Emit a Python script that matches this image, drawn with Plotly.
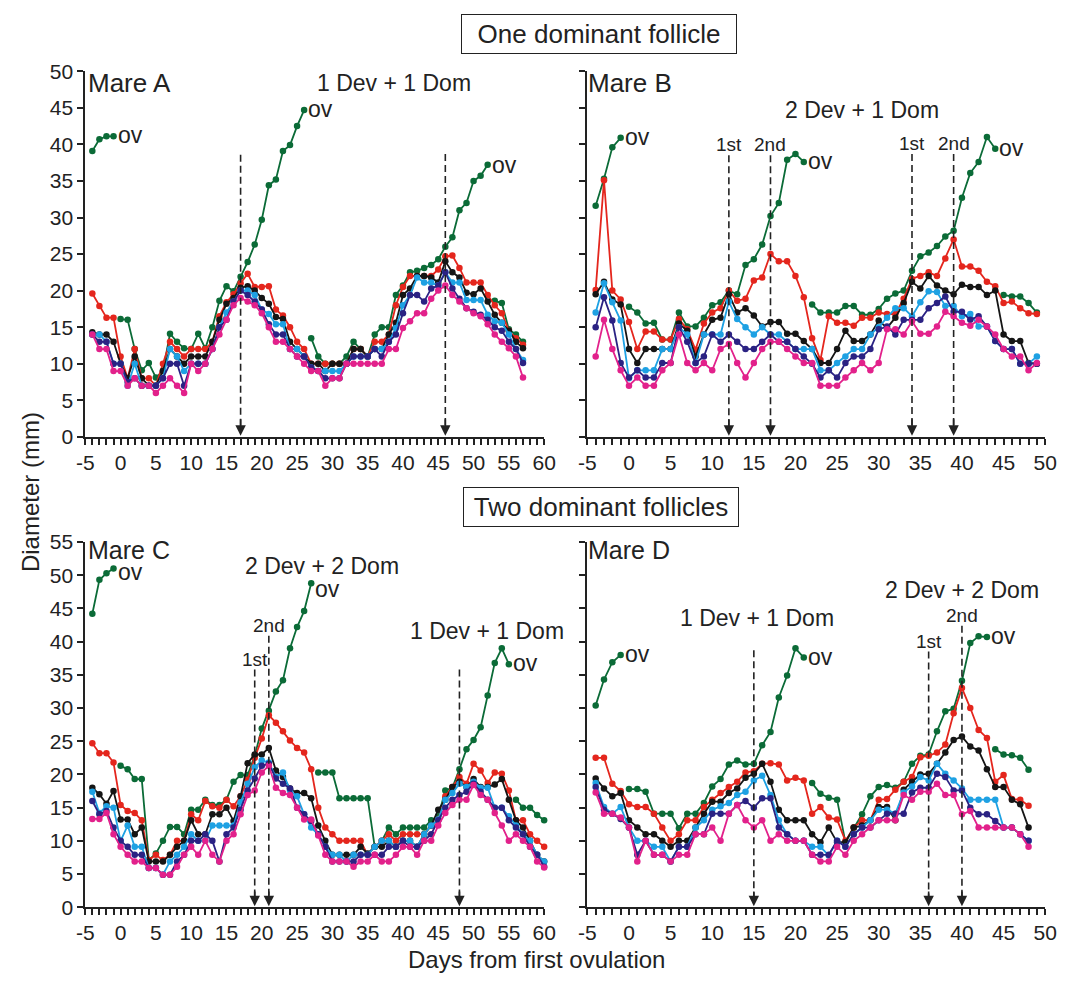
import plotly.graph_objects as go

W, H = 1077, 984
def PX(x): return x / W
def PY(y): return 1 - y / H

FONT = "Arial, Liberation Sans, sans-serif"
COL = dict(green="#0b6b37", red="#e4261d", black="#151515",
           lblue="#1ea1e3", navy="#2b2283", pink="#e2218b")

# ---------------- Mare A (days -4 .. 57) ----------------
A_START = -4
A_RED = [19.6, 17.9, 16.3, 16.3,
         11, 8, 12, 8, 8, 7, 10, 13, 12, 11,
         12, 12, 12, 13, 16.5, 18.4, 19.5, 21, 22.3, 20.5,
         20.5, 20.6, 17.4, 16.6, 15, 13, 12, 10, 10, 10,
         10, 10, 10, 12, 12, 11, 13, 13, 14, 18,
         20.5, 22, 22, 22, 22, 22.9, 24.7, 24.8, 23.1, 21.1,
         21.1, 21.1, 19.4, 18.0, 16.9, 14.5, 13.5, 12.6]
A_BLACK = [14.3, 14, 14, 13,
           10, 8, 11, 8, 7, 7, 9, 12, 11, 10,
           11, 11, 11, 13, 16, 18.2, 19, 20.4, 20.6, 20,
           19, 18.2, 16.4, 16.1, 13, 12, 11, 10, 10, 9,
           10, 10, 10, 12, 12, 11, 12, 12, 14, 15.6,
           19.4, 20.3, 22, 22, 21.8, 21.1, 24, 22.5, 21.8, 19.7,
           19.5, 20.3, 18.5, 16.7, 15.6, 14.5, 13.0, 12.1]
A_LBLUE = [14, 14, 13, 10,
           10, 7, 10, 7, 7, 7, 8, 12, 11, 9,
           10, 10, 10, 12, 15, 17, 18.5, 20, 20, 19.4,
           17.4, 16.8, 15.4, 15.4, 12, 12, 11, 9.5, 9, 9,
           9, 9, 10, 11, 11, 11, 12, 12, 13, 14.9,
           18, 19.4, 21.8, 21.1, 21.1, 20.7, 22.5, 21.1, 21.1, 18.7,
           18.7, 18.7, 16.7, 15.8, 15.6, 14.0, 12, 10.5]
A_NAVY = [14, 13, 13, 10,
          10, 7.5, 8, 7, 7, 7, 8, 10, 10, 7,
          10, 10, 10, 12, 15, 16, 18.5, 20, 19.4, 18.5,
          17.4, 15.4, 14, 14, 12, 11, 11, 9.5, 9, 8,
          8, 8, 10, 11, 11, 11, 12, 11, 13, 14,
          16.9, 19.4, 19.4, 18.5, 20.3, 20.7, 22.5, 20.3, 18.9, 17.6,
          17.1, 16.7, 16.0, 15.0, 14.5, 13.0, 12, 10.1]
A_PINK = [14, 12, 12, 9,
          9, 7, 8, 7, 7, 6, 7, 8, 7, 6,
          10, 9, 10, 12, 14, 16, 18, 19, 18.5, 18,
          16.9, 15, 13, 13, 12, 11, 10, 9, 9, 7,
          8, 8, 10, 10, 10, 10, 10, 10, 12, 12,
          14.9, 15.8, 16.9, 16.9, 18.9, 20, 20.7, 19.4, 18.5, 17.6,
          16.9, 16.5, 15.4, 14.0, 13.0, 12.1, 11, 8.1]
A_GREEN = [(-4, [39.1, 40.7, 41.1, 41.1]),
           (0, [16.1, 16.0, 12, 9.1, 10.1, 8.1, 9, 14.1, 13.0, 12.1, 12, 14.1, 12.1,
                15.0, 18.6, 20.6, 19.9, 21.9, 23.9, 26.3, 29.7, 34.4, 35.2, 39.1,
                39.9, 42.5, 44.7]),
           (27, [13.5, 11, 10, 10, 10, 11, 13, 12, 11, 14, 15, 15, 19.4, 20.7, 22.5,
                 22.7, 23.1, 23.5, 24.3, 26, 27.3, 31.0, 32.0, 35.0, 35.7, 37.2]),
           (53, [18.6, 18.3, 14.7, 14.0, 13.0])]
A_ARROWS = [(17, 38.6, ""), (46, 38.7, "")]

# ---------------- Mare B (days -4 .. 49) ----------------
B_START = -4
B_RED = [20.1, 35.1, 20.0, 18.8,
         15.7, 12.0, 14.4, 14.4, 13.3, 13.3, 16.1, 14.7, 11.9, 15.5,
         17.0, 17.6, 20.0, 18.6, 18.9, 21.4, 21.8, 25.0, 24.0, 24.0,
         22.0, 19.1, 13.5, 10.5, 16.5, 15.6, 15.6, 15.2, 16.3, 16.3,
         17.0, 16.8, 16.8, 18.9, 21.6, 22.0, 22.5, 22.0, 24.4, 27.0,
         23.3, 23.3, 22.7, 21.2, 20.6, 18.3, 18.5, 17.6, 16.9, 16.8]
B_BLACK = [19.5, 21.2, 18.8, 18.1,
           12.0, 10.1, 12, 12, 12, 12, 15.5, 14.5, 11.0, 14.0,
           16.0, 16.3, 19.5, 17.0, 17.6, 16.6, 15.1, 15.7, 15.7, 14.1,
           14.1, 13.1, 12.0, 10.1, 10.1, 12.0, 14.5, 13.1, 13.1, 14.0,
           15.9, 14.9, 16.3, 18.3, 21.2, 20.3, 22.0, 20.7, 20.0, 19.5,
           20.8, 20.5, 20.5, 19.4, 20.0, 14.0, 13.1, 13.1, 10.1, 10.0]
B_LBLUE = [17.0, 21.0, 18.4, 15.9,
           8.0, 9.1, 9.1, 9.1, 12, 12, 15.0, 14, 10.1, 14.0,
           14, 14, 18.5, 16.1, 15.0, 14, 15, 14, 14, 13,
           12, 12, 12, 9.1, 9.1, 10.1, 11.0, 12.0, 12.0, 14.0,
           15.0, 16.3, 17.6, 17.6, 16.5, 18.4, 19.9, 19.8, 17.9, 17.9,
           16.5, 16.8, 15.1, 15.1, 13.1, 12.0, 12.0, 10.0, 10.0, 11.0]
B_NAVY = [15.0, 19.1, 15.9, 10.1,
          8.1, 9.1, 8.1, 8.1, 10.1, 10.1, 15, 13, 10.1, 11,
          14, 13, 14, 13, 12, 12, 13, 14, 13, 13,
          12, 11, 10, 8.1, 9.1, 8.1, 10.1, 11.0, 11.0, 12.0,
          14.7, 15.1, 14.0, 16.0, 16.0, 16.0, 17.6, 18.3, 19.2, 17.1,
          17.1, 16.0, 16.5, 15.1, 13.1, 12, 12, 10, 10, 10]
B_PINK = [11, 16, 12, 9.1,
          7.0, 8.1, 7, 7, 9.1, 10.1, 14, 10.1, 9.1, 10.1,
          9.1, 12, 12.7, 10.1, 8.1, 10.1, 12, 13, 13, 12,
          11, 10.1, 10.1, 7, 7, 7, 8.1, 9.1, 10.1, 9.1,
          10.1, 14.7, 14.7, 14.0, 15.8, 14.1, 14.1, 15.1, 17.1, 16.5,
          15.6, 15.2, 16.0, 15.1, 14.0, 12.0, 11.0, 11.0, 9.1, 10.1]
B_GREEN = [(-4, [31.6, 35.3, 39.6, 40.9]),
           (0, [17.8, 17.0, 15.5, 15.6, 13.3, 13.3, 17.0, 15.1, 15.1, 16.3, 18.0,
                18.4, 20.0, 19.5, 23.5, 24.3, 26.3, 30.2, 32.0, 37.9, 38.7, 37.6]),
           (22, [18.1, 17.0, 17.0, 17.0, 17.9, 17.9, 16.7, 16.7, 17.5, 18.9, 19.6,
                 20.0, 22.7, 24.7, 25.2, 26.1, 27.4, 28.2, 32.7, 36.1, 37.6, 41.0, 39.4]),
           (45, [19.4, 19.2, 19.2, 18.3, 17.0])]
B_ARROWS = [(12, 38.5, "1st"), (17, 38.5, "2nd"), (34, 38.7, "1st"), (39, 38.7, "2nd")]

# ---------------- Mare C (days -4 .. 60) ----------------
C_START = -4
C_RED = [24.7, 23.2, 23.2, 21.8,
         15.4, 14.5, 14.2, 13.1, 7.1, 7.9, 7.1, 7.9, 10, 10,
         14, 13.1, 16, 15.2, 15, 16.2, 15.2, 16.7, 19.2, 22.5,
         25.4, 28.9, 27.8, 26.5, 25.1, 24.0, 23.3, 20.8, 15.0, 12.0,
         11.0, 10.0, 10, 10, 10, 7.9, 9.1, 10, 11, 10,
         11, 11, 11, 11, 12.3, 13.2, 16.7, 18.1, 19.6, 18.6,
         21.6, 20.6, 18.7, 20.3, 20.1, 17.6, 13.1, 13.1, 11.0, 10.0, 9.1]
C_BLACK = [18.0, 17.0, 15.6, 17.5,
           13.2, 13.2, 11.0, 12.0, 6.9, 6.9, 6.9, 7.9, 9.1, 10.0,
           13.1, 11.0, 11.0, 14.0, 14.0, 15.0, 13, 16.7, 21.7, 23.0,
           23.0, 24.0, 20.6, 19.6, 17.9, 17.2, 17.2, 16.4, 12.3, 10.0,
           7.9, 7.9, 7.9, 7.9, 9.1, 8.1, 9.1, 9.1, 10, 9.1,
           10, 10, 9.1, 11, 12.3, 14.7, 16.2, 18.1, 18.9, 18.1,
           19.3, 18.1, 18.1, 18.5, 19.3, 16.2, 13.1, 12.0, 10.0, 7.9, 6.9]
C_LBLUE = [17.4, 14.2, 15.2, 15.0,
           10.0, 12.3, 9.1, 9.1, 5.9, 5.9, 4.9, 6.9, 7.9, 9.1,
           11, 10, 10, 12.3, 12.3, 12.3, 12.3, 15.8, 18.6, 21.1,
           22.1, 21.8, 19.6, 20.3, 17.6, 16.7, 14.0, 12.0, 11, 9.1,
           7.9, 7.9, 6.9, 7.9, 7.9, 7.9, 9.1, 10, 10, 9.1,
           10, 10, 9.1, 11, 12.3, 13.2, 16.2, 17.2, 18.6, 18.1,
           18.9, 18.0, 18.0, 15.0, 15.0, 13.7, 12.3, 11, 10, 7.9, 6.9]
C_NAVY = [16.0, 14.0, 14.5, 12.0,
          10.0, 9.1, 7.9, 7.9, 5.9, 5.9, 4.9, 4.9, 6.9, 7.9,
          10, 10, 11, 10, 6.9, 11, 12, 14.7, 17.6, 19.4,
          21.3, 21.6, 19.4, 18.6, 17.9, 15.0, 14.0, 13.0, 11, 9.1,
          6.9, 6.9, 6.9, 6.9, 7.9, 7.9, 7.9, 7.9, 9.1, 9.1,
          10, 9.1, 9.1, 10, 11, 13.1, 15, 16.2, 16.9, 17.4,
          18.6, 17.4, 16.2, 15, 15, 13.1, 12, 11, 9.1, 7.9, 6.1]
C_PINK = [13.3, 13.3, 14.2, 11.0,
          9.1, 7.9, 6.9, 6.9, 5.9, 5.9, 4.9, 4.9, 6.1, 7.9,
          9.1, 7.9, 10.0, 7.9, 6.9, 10, 11, 14.0, 16.9, 17.6,
          20.3, 21.3, 18.0, 17.2, 16.9, 15.0, 13.2, 13.2, 10.8, 7.9,
          6.9, 6.9, 6.9, 6.1, 6.9, 6.9, 7.9, 6.9, 6.9, 7.9,
          9.1, 9.1, 7.9, 10, 10, 12.3, 14.2, 15.4, 16.2, 16.2,
          18.4, 16.9, 16.2, 14.2, 12.3, 10, 11, 10, 9.1, 6.9, 6.0]
C_GREEN = [(-4, [44.2, 49.3, 50.3, 51.0]),
           (0, [21.3, 20.8, 19.3, 19.3, 7.1, 8.1, 10.0, 12.1, 12.1, 11.0, 14.7, 14.7,
                16.2, 15.4, 15.4, 16.2, 18.9, 19.9, 19.9, 22.8, 26.9, 29.6, 32.5,
                34.2, 39.0, 42.2, 44.6, 48.8]),
           (28, [20.3, 20.3, 20.3, 16.4, 16.4, 16.4, 16.4, 16.4, 9.1, 10, 12, 11, 12,
                 12, 12, 12, 13.1, 13.7, 17.6, 18, 20.8, 23.8, 25.2, 27.1, 31.9,
                 36.8, 39.0, 36.6]),
           (56, [16.2, 15.0, 15.0, 13.9, 13.1])]
C_ARROWS = [(19, 35.8, "1st"), (21, 40.9, "2nd"), (48, 35.8, "")]

# ---------------- Mare D (days -4 .. 48) ----------------
D_START = -4
D_RED = [22.5, 22.5, 18.6, 17.5,
         15.5, 15.1, 15.1, 14.1, 12.0, 10.0, 11, 13.1, 13.1, 15.1,
         16.2, 17.2, 18.1, 18.9, 20.3, 20.5, 21.6, 21.7, 21.5, 19.1,
         19.5, 19.1, 14.1, 15.1, 13.5, 13.2, 10.0, 12.0, 13.1, 13.1,
         16.2, 16.3, 17.7, 18.9, 19.6, 22.6, 22.8, 23.3, 24.5, 29.2,
         33.0, 30.0, 26.7, 25.5, 18.9, 19.9, 16.3, 16.2, 15.3]
D_BLACK = [19.4, 17.9, 16.7, 17.2,
           13.1, 12.0, 11.0, 11.0, 10.0, 9.1, 10, 10, 12, 14.1,
           15.9, 15.9, 17.2, 17.9, 19.5, 20.1, 21.6, 18.9, 14.7, 13.1,
           13.1, 13.1, 11.0, 9.8, 12.0, 9.8, 9.8, 12.0, 12.3, 13.1,
           15.1, 15.1, 13.1, 17.7, 18.9, 20.0, 20.1, 21.6, 23.3, 25.2,
           25.7, 24.2, 23.6, 20.8, 18.1, 18.1, 16.2, 15.5, 12.0]
D_LBLUE = [18.7, 15.1, 14.1, 15.1,
           12.0, 10.0, 10.0, 9.1, 9.1, 6.9, 9.1, 9.1, 12, 13.1,
           14.7, 15.2, 15.7, 16.9, 17.4, 19.1, 19.8, 16.9, 13.1, 11.0,
           10, 10, 9.1, 9.1, 7.8, 10, 9.1, 11, 12.0, 13.1,
           14.7, 14.7, 14.1, 17.3, 18.2, 19.6, 19.1, 21.6, 20.1, 19.1,
           17.9, 16.2, 16.2, 16.2, 16.2, 12.0, 12.0, 11.0, 10.0]
D_NAVY = [18.1, 14.7, 14.1, 13.3,
          12.0, 7.9, 10, 7.9, 7.9, 6.9, 9.1, 9.1, 11, 11,
          14.1, 14.1, 14.1, 15.4, 16.0, 15.0, 16.4, 16.4, 12.0, 11.0,
          10, 10, 7.9, 7.9, 7.9, 10, 9.1, 11, 12, 12,
          13.1, 14.1, 14.1, 14.1, 17.3, 18.0, 18.0, 20.1, 19.6, 17.6,
          17.6, 15.0, 14.0, 14.0, 13.0, 12.0, 12.0, 11.0, 10.0]
D_PINK = [17.3, 14.1, 14.1, 13.5,
          12.0, 6.9, 10, 7.9, 7.9, 6.9, 7.9, 7.9, 11, 11,
          12, 10, 14.1, 15.4, 13.1, 12, 13.1, 10, 11, 10,
          10, 10, 7.9, 6.9, 6.9, 9.1, 7.9, 10, 11, 12,
          13.1, 13.1, 13.1, 16.9, 16.2, 17.4, 17.4, 18.6, 16.9, 16.9,
          14.0, 14.5, 12.0, 12.0, 12.0, 12.0, 12.0, 11.0, 9.1]
D_GREEN = [(-4, [30.4, 34.3, 36.9, 38.0]),
           (0, [17.8, 17.8, 17.4, 14.1, 14.1, 14.1, 11.9, 14.1, 14.1, 15.7, 18.2,
                19.3, 21.5, 22.1, 21.5, 21.6, 24.4, 26.4, 31.6, 34.9, 39.0, 37.6]),
           (22, [18.7, 17.1, 16.5, 16.2, 9.8, 12.0, 14.0, 16.7, 18.1, 18.4, 18.0,
                 18.9, 21.6, 22.8, 23.0, 26.5, 29.5, 29.9, 34.1, 39.8, 40.8, 40.7]),
           (44, [23.8, 23.0, 22.9, 22.5, 20.7])]
D_ARROWS = [(15, 38.7, ""), (36, 38.5, "1st"), (40, 42.4, "2nd")]

# vertical pixel nudges for individual "ov" labels (panel, segment index)
OV_NUDGE = {("C", 0): -4, ("C", 1): -7, ("A", 2): -1}

# ---------------- geometry ----------------
X_AC = [PX(77.8), PX(545.8)]
X_BD = [PX(589.85), PX(1056.8)]
Y_AB = [PY(435), PY(60.7)]
Y_CD = [PY(916.7), PY(542.7)]

PANELS = [
    dict(name="A", xa="x", ya="y", start=A_START, red=A_RED, black=A_BLACK, lblue=A_LBLUE,
         navy=A_NAVY, pink=A_PINK, green=A_GREEN, arrows=A_ARROWS),
    dict(name="B", xa="x2", ya="y2", start=B_START, red=B_RED, black=B_BLACK, lblue=B_LBLUE,
         navy=B_NAVY, pink=B_PINK, green=B_GREEN, arrows=B_ARROWS),
    dict(name="C", xa="x3", ya="y3", start=C_START, red=C_RED, black=C_BLACK, lblue=C_LBLUE,
         navy=C_NAVY, pink=C_PINK, green=C_GREEN, arrows=C_ARROWS),
    dict(name="D", xa="x4", ya="y4", start=D_START, red=D_RED, black=D_BLACK, lblue=D_LBLUE,
         navy=D_NAVY, pink=D_PINK, green=D_GREEN, arrows=D_ARROWS),
]

fig = go.Figure()
annotations = []
shapes = []

def add_line(x, y, color, xa, ya):
    fig.add_trace(go.Scatter(x=x, y=y, xaxis=xa, yaxis=ya, mode="lines+markers",
                             line=dict(color=color, width=1.8),
                             marker=dict(color=color, size=6.5),
                             showlegend=False, hoverinfo="skip", cliponaxis=False))

for p in PANELS:
    xa, ya = p["xa"], p["ya"]
    for gstart, gvals in p["green"]:
        gx = list(range(gstart, gstart + len(gvals)))
        add_line(gx, gvals, COL["green"], xa, ya)
    for key in ["red", "black", "lblue", "navy", "pink"]:
        vals = p[key]
        xs = list(range(p["start"], p["start"] + len(vals)))
        add_line(xs, vals, COL[key], xa, ya)
    for i, (gstart, gvals) in enumerate(p["green"][:-1]):
        annotations.append(dict(x=gstart + len(gvals) - 1, y=gvals[-1], xref=xa, yref=ya,
                                text="ov", showarrow=False, xanchor="left", yanchor="middle",
                                xshift=3, yshift=1 + OV_NUDGE.get((p["name"], i), 0),
                                borderpad=0,
                                font=dict(size=23, family=FONT, color="#222")))
    for day, top, lab in p["arrows"]:
        shapes.append(dict(type="line", xref=xa, yref=ya, x0=day, x1=day, y0=top, y1=1.5,
                           line=dict(color="#222", width=1.6, dash="7px,4px")))
        annotations.append(dict(x=day, y=0.15, ax=day, ay=2.6, xref=xa, yref=ya,
                                axref=xa, ayref=ya, text="", showarrow=True,
                                arrowhead=2, arrowsize=1.3, arrowwidth=1.6, arrowcolor="#222"))
        if lab:
            annotations.append(dict(x=day, y=top, xref=xa, yref=ya, text=lab, showarrow=False,
                                    xanchor="center", yanchor="bottom", yshift=-1,
                                    borderpad=0,
                                    font=dict(size=19, family=FONT, color="#222")))

def txt(text, x, y, size=22, xanchor="center", yanchor="middle", **kw):
    d = dict(x=PX(x), y=PY(y), xref="paper", yref="paper", text=text, showarrow=False,
             xanchor=xanchor, yanchor=yanchor, font=dict(size=size, family=FONT, color="#222"))
    d.update(kw)
    annotations.append(d)

txt("Mare A", 80, 73, 26, "left", borderpad=0)
txt("Mare B", 590, 73, 26, "left", borderpad=0)
txt("Mare C", 80, 551, 25, "left", borderpad=0)
txt("Mare D", 590, 551, 25, "left", borderpad=0)
txt("1 Dev + 1 Dom", 393, 73, 23)
txt("2 Dev + 1 Dom", 870, 100, 23)
txt("2 Dev + 2 Dom", 319, 567, 23, borderpad=0)
txt("1 Dev + 1 Dom", 487, 634, 23)
txt("1 Dev + 1 Dom", 763, 620, 23)
txt("2 Dev + 2 Dom", 972, 592, 23)
txt("One dominant follicle", 602, 23, 26, bordercolor="#222", borderwidth=1,
    width=270, height=34, borderpad=2)
txt("Two dominant follicles", 604, 507, 26, bordercolor="#222", borderwidth=1,
    width=270, height=34, borderpad=2)
txt("Diameter (mm)", 22, 492, 24, textangle=-90)
txt("Days from first ovulation", 538, 985, 24, "center", "bottom", borderpad=0)

def xaxis(domain, rng, anchor):
    vals = list(range(rng[0], rng[1] + 1, 5))
    return dict(domain=domain, range=rng, anchor=anchor, showline=True, linecolor="#222",
                linewidth=2, ticks="outside", ticklen=6, tickwidth=1.5, tickcolor="#222",
                tickmode="array", tickvals=vals, ticktext=[str(v) for v in vals],
                showgrid=False, zeroline=False,
                tickfont=dict(size=21, family=FONT, color="#222"),
                minor=dict(ticks="outside", ticklen=6, tickwidth=1.5, tickcolor="#222",
                           tickmode="linear", dtick=1, tick0=0, showgrid=False))

def yaxis(domain, rng, anchor, labels):
    return dict(domain=domain, range=rng, anchor=anchor, showline=True, linecolor="#222",
                linewidth=2, ticks="outside", ticklen=6, tickwidth=1.5, tickcolor="#222",
                tickmode="linear", tick0=0, dtick=5, showgrid=False, zeroline=False,
                showticklabels=labels,
                tickfont=dict(size=21, family=FONT, color="#222"))

fig.update_layout(
    width=W, height=H, autosize=False,
    margin=dict(l=0, r=0, t=0, b=0),
    paper_bgcolor="white", plot_bgcolor="white",
    showlegend=False,
    xaxis=xaxis(X_AC, [-5, 60], "y"),
    yaxis=yaxis(Y_AB, [0, 50], "x", True),
    xaxis2=xaxis(X_BD, [-5, 50], "y2"),
    yaxis2=yaxis(Y_AB, [0, 50], "x2", False),
    xaxis3=xaxis(X_AC, [-5, 60], "y3"),
    yaxis3=yaxis(Y_CD, [0, 55], "x3", True),
    xaxis4=xaxis(X_BD, [-5, 50], "y4"),
    yaxis4=yaxis(Y_CD, [0, 55], "x4", False),
    annotations=annotations,
    shapes=shapes,
)

fig.write_html("out.html")
